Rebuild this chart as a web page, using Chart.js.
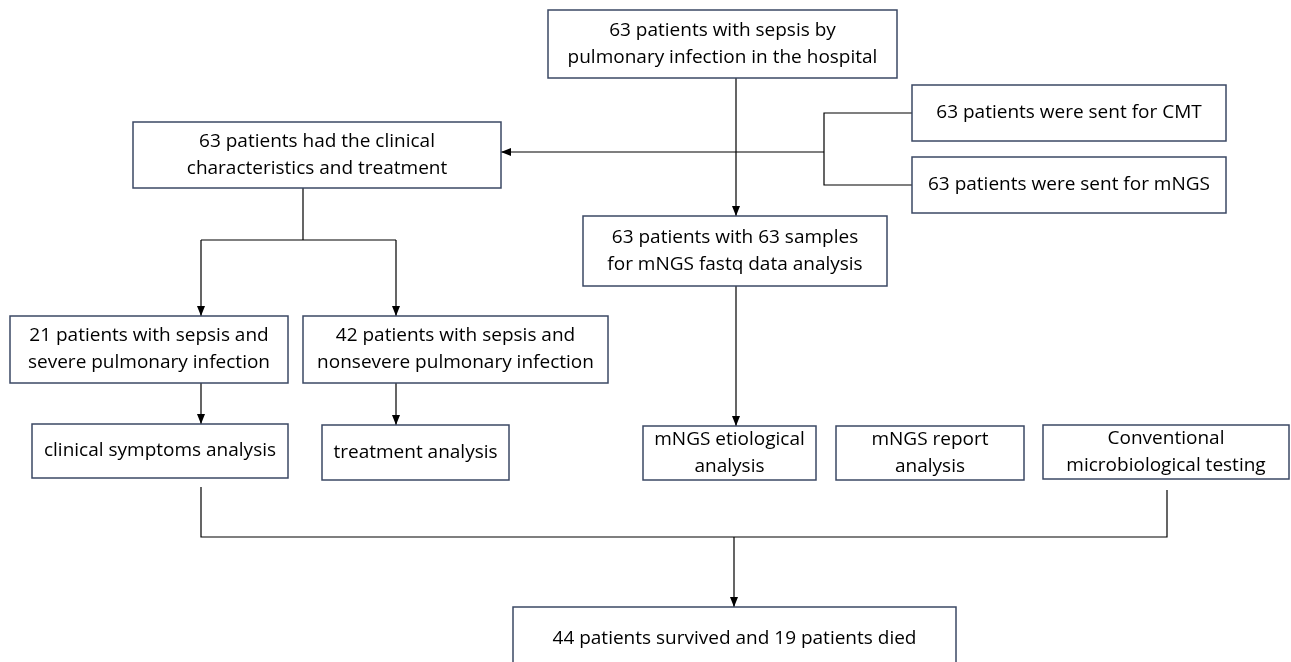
<!DOCTYPE html>
<html>
<head>
<meta charset="utf-8">
<script src="https://cdn.jsdelivr.net/npm/chart.js@4.4.1/dist/chart.umd.min.js"></script>
<style>
    html, body { margin: 0; padding: 0; background: #ffffff; }
    #flow { display: block; }
</style>
</head>
<body>
<canvas id="flow" width="1291" height="662"></canvas>
<script>
// node texts, one entry per box
const nodeLabels = [
    ["63 patients with sepsis by", "pulmonary infection in the hospital"],
    ["63 patients had the clinical", "characteristics and treatment"],
    ["63 patients were sent for CMT"],
    ["63 patients were sent for mNGS"],
    ["63 patients with 63 samples", "for mNGS fastq data analysis"],
    ["21 patients with sepsis and", "severe pulmonary infection"],
    ["42 patients with sepsis and", "nonsevere pulmonary infection"],
    ["clinical symptoms analysis"],
    ["treatment analysis"],
    ["mNGS etiological", "analysis"],
    ["mNGS report", "analysis"],
    ["Conventional", "microbiological testing"],
    ["44 patients survived and 19 patients died"]
];

// box extents in axis units: left, top, right, bottom
const nodeLeft   = [548, 133, 912, 912, 583,  10, 303,  32, 322, 643, 836, 1043, 513];
const nodeTop    = [ 10, 122,  85, 157, 216, 316, 316, 424, 425, 426, 426,  425, 607];
const nodeRight  = [897, 501, 1226, 1226, 887, 288, 608, 288, 509, 816, 1024, 1289, 956];
const nodeBottom = [ 78, 188, 141, 213, 286, 383, 383, 478, 480, 480, 480,  479, 670];

// connectors, as polylines in axis units; arrow marks an arrow at the last point
const linkX = [
    [736, 736],
    [824, 501],
    [912, 824, 824, 912],
    [303, 303],
    [201, 396],
    [201, 201],
    [396, 396],
    [201, 201],
    [396, 396],
    [736, 736],
    [201, 201, 1167, 1167],
    [734, 734]
];
const linkY = [
    [78, 216],
    [152, 152],
    [113, 113, 185, 185],
    [188, 240],
    [240, 240],
    [240, 316],
    [240, 316],
    [383, 424],
    [383, 425],
    [286, 426],
    [487, 537, 537, 490],
    [537, 607]
];
const linkArrow = [true, true, false, false, false, true, true, true, true, true, false, true];

const boxBorder = "#3b4864";
const textFont = "19px 'Open Sans', 'Noto Sans', sans-serif";

const linkDatasets = linkX.map(function (xs, i) {
    return {
        type: "line",
        data: xs.map(function (x, j) { return { x: x, y: linkY[i][j] }; }),
        borderColor: "#000000",
        borderWidth: 1.2,
        pointRadius: 0,
        fill: false,
        tension: 0
    };
});

const flowPlugin = {
    id: "flowBoxes",
    afterDatasetsDraw(chart) {
        const ctx = chart.ctx;
        const xs = chart.scales.x;
        const ys = chart.scales.y;

        // arrow heads
        ctx.save();
        ctx.fillStyle = "#000000";
        linkX.forEach(function (px, i) {
            if (!linkArrow[i]) {
                return;
            }
            const n = px.length;
            const x1 = xs.getPixelForValue(px[n - 2]);
            const y1 = ys.getPixelForValue(linkY[i][n - 2]);
            const x2 = xs.getPixelForValue(px[n - 1]);
            const y2 = ys.getPixelForValue(linkY[i][n - 1]);
            const a = Math.atan2(y2 - y1, x2 - x1);
            const len = 10;
            const half = 4;
            ctx.beginPath();
            ctx.moveTo(x2, y2);
            ctx.lineTo(x2 - len * Math.cos(a) + half * Math.sin(a), y2 - len * Math.sin(a) - half * Math.cos(a));
            ctx.lineTo(x2 - len * Math.cos(a) - half * Math.sin(a), y2 - len * Math.sin(a) + half * Math.cos(a));
            ctx.closePath();
            ctx.fill();
        });
        ctx.restore();

        // boxes and their texts
        ctx.save();
        ctx.font = textFont;
        ctx.textAlign = "center";
        ctx.textBaseline = "middle";
        nodeLabels.forEach(function (lines, i) {
            const l = xs.getPixelForValue(nodeLeft[i]);
            const r = xs.getPixelForValue(nodeRight[i]);
            const t = ys.getPixelForValue(nodeTop[i]);
            const b = ys.getPixelForValue(nodeBottom[i]);
            ctx.fillStyle = "#ffffff";
            ctx.fillRect(l, t, r - l, b - t);
            ctx.strokeStyle = boxBorder;
            ctx.lineWidth = 1.5;
            ctx.strokeRect(l, t, r - l, b - t);

            const cx = (l + r) / 2;
            const cy = i === nodeLabels.length - 1 ? ys.getPixelForValue(639) : (t + b) / 2;
            const lineH = 27;
            ctx.fillStyle = "#000000";
            lines.forEach(function (txt, k) {
                ctx.fillText(txt, cx, cy + (k - (lines.length - 1) / 2) * lineH);
            });
        });
        ctx.restore();
    }
};

new Chart(document.getElementById("flow"), {
    type: "scatter",
    data: { datasets: linkDatasets },
    options: {
        responsive: false,
        animation: false,
        events: [],
        layout: { padding: 0 },
        plugins: {
            legend: { display: false },
            tooltip: { enabled: false }
        },
        scales: {
            x: { type: "linear", min: 0, max: 1291, display: false },
            y: { type: "linear", min: 0, max: 662, reverse: true, display: false }
        }
    },
    plugins: [flowPlugin]
});
</script>
</body>
</html>
